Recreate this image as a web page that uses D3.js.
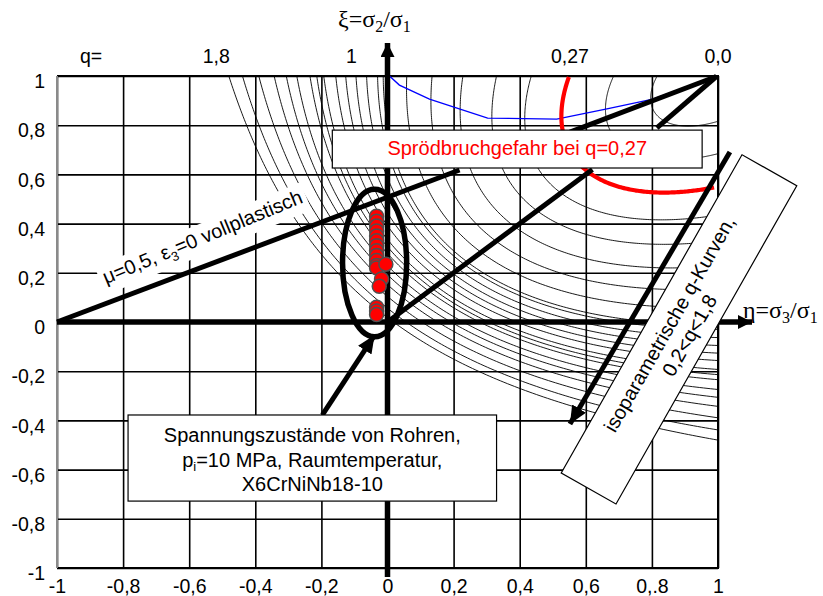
<!DOCTYPE html>
<html>
<head>
<meta charset="utf-8">
<script src="https://cdn.jsdelivr.net/npm/d3@7"></script>
<style>
  body { margin: 0; background: #fff; }
  svg { display: block; }
  text { font-family: Arial, "Liberation Sans", sans-serif; }
</style>
</head>
<body>
<svg id="chart" width="823" height="596"></svg>
<script>
// ---- data -------------------------------------------------------------
const tickValues   = [-1, -0.8, -0.6, -0.4, -0.2, 0, 0.2, 0.4, 0.6, 0.8, 1];
const xTickLabels  = ["-1", "-0,8", "-0,6", "-0,4", "-0,2", "0", "0,2", "0,4", "0,6", "0,.8", "1"];
const yTickLabels  = ["-1", "-0,8", "-0,6", "-0,4", "-0,2", "0", "0,2", "0,4", "0,6", "0,8", "1"];

// q labels along the upper border and the eta where they sit
const qTopLabels   = ["q=", "1,8", "1", "0,27", "0,0"];
const qTopLabelEta = [-0.897, -0.518, -0.109, 0.552, 1.0];

// q = Q_FACTOR * sigma_v / (sigma1 + sigma2 + sigma3)
const Q_FACTOR = 1.53;
// levels of the thin isoparametric q-curves
const qLevels = [1.49, 1.41, 1.32, 1.24, 1.18, 1.13, 1.07, 1.04, 1.01, 0.96, 0.92,
                 0.88, 0.84, 0.80, 0.78, 0.70, 0.62, 0.53, 0.44, 0.355, 0.18, 0.10];
const qCritical = 0.27;   // Sprödbruchgefahr

// blue reference line
const blueEta = [0.006, 0.036, 0.127, 0.303, 0.512, 0.664, 0.803, 0.994];
const blueXi  = [1.0,   0.963, 0.906, 0.829, 0.825, 0.866, 0.906, 1.0];

// measured stress states of the pipes (eta, xi)
const pointEta = [-0.033, -0.033, -0.033, -0.033, -0.033, -0.033, -0.033, -0.033, -0.033,
                  -0.033, -0.033, -0.033, -0.005, -0.018, -0.025, -0.033, -0.033, -0.033];
const pointXi  = [0.43, 0.41, 0.39, 0.37, 0.35, 0.33, 0.31, 0.29, 0.27,
                  0.25, 0.23, 0.22, 0.235, 0.175, 0.145, 0.06, 0.045, 0.03];

// ---- scales -----------------------------------------------------------
const svg = d3.select("#chart");
const x = d3.scaleLinear().domain([-1, 1]).range([57, 718]);
const y = d3.scaleLinear().domain([-1, 1]).range([568, 76]);
const plotH = y(-1) - y(1), plotW = x(1) - x(-1);

// arrowhead markers
const defs = svg.append("defs");
function marker(id, w, l) {
  defs.append("marker").attr("id", id)
    .attr("viewBox", `0 ${-w / 2} ${l} ${w}`)
    .attr("refX", l).attr("refY", 0)
    .attr("markerWidth", l).attr("markerHeight", w)
    .attr("markerUnits", "userSpaceOnUse")
    .attr("orient", "auto")
    .append("path").attr("d", `M0,${-w / 2}L${l},0L0,${w / 2}Z`).attr("fill", "#000");
}
marker("axisHead", 14, 14);
marker("head", 16, 18);

// ---- grid + tick labels -----------------------------------------------
const gx = svg.append("g")
  .attr("transform", `translate(0,${y(-1)})`)
  .call(d3.axisBottom(x).tickValues(tickValues).tickSize(-plotH).tickPadding(11)
        .tickFormat((d, i) => xTickLabels[i]));
const gy = svg.append("g")
  .attr("transform", `translate(${x(-1)},0)`)
  .call(d3.axisLeft(y).tickValues(tickValues).tickSize(-plotW).tickPadding(12)
        .tickFormat((d, i) => yTickLabels[i]));
[gx, gy].forEach(g => {
  g.select(".domain").remove();
  g.selectAll(".tick line").attr("stroke", "#000").attr("stroke-width", 1.6);
  g.selectAll(".tick text").attr("fill", "#000").style("font-size", "19.5px")
    .style("font-family", "Arial, 'Liberation Sans', sans-serif");
});
gy.selectAll(".tick text").attr("dy", "0.6em");
gx.selectAll(".tick text").attr("dy", "0.72em");

// plot border
svg.append("path")
  .attr("d", `M${x(-1)},${y(1)}H${x(1)}V${y(-1)}H${x(-1)}`)
  .attr("fill", "none").attr("stroke", "#000").attr("stroke-width", 2);
svg.append("line")
  .attr("x1", x(-1)).attr("x2", x(-1)).attr("y1", y(1)).attr("y2", y(-1))
  .attr("stroke", "#8a8a8a").attr("stroke-width", 2);

// top q labels
svg.append("g").selectAll("text").data(qTopLabels).join("text")
  .attr("x", (d, i) => x(qTopLabelEta[i])).attr("y", 63)
  .attr("text-anchor", "middle").style("font-size", "19.5px").text(d => d);

// ---- isoparametric q-curves --------------------------------------------
// A curve of constant q is traced along rays leaving the corner (1,1).
function qCurve(q) {
  const c = q / Q_FACTOR, pts = [];
  for (let k = 0; k <= 180; k++) {
    const t = (k / 180) * Math.PI / 2, a = Math.cos(t), b = Math.sin(t);
    const r = 3 * c / (Math.sqrt(1 - a * b) + c * (a + b));
    pts.push([1 - r * a, 1 - r * b]);
  }
  return pts;
}
const line = d3.line().x(d => x(d[0])).y(d => y(d[1]));
svg.append("g").selectAll("path").data(qLevels).join("path")
  .attr("d", q => line(qCurve(q)))
  .attr("fill", "none").attr("stroke", "#000").attr("stroke-width", 0.9);

// blue line
svg.append("path")
  .attr("d", line(blueEta.map((e, i) => [e, blueXi[i]])))
  .attr("fill", "none").attr("stroke", "#0000ff").attr("stroke-width", 1.3);

// critical q curve
svg.append("path")
  .attr("d", line(qCurve(qCritical).filter(p => p[0] < 0.99 && p[1] < 0.999)))
  .attr("fill", "none").attr("stroke", "#ff0000").attr("stroke-width", 4.2);

// ---- coordinate axes -----------------------------------------------------
svg.append("line")
  .attr("x1", x(0)).attr("y1", y(-1) + 9).attr("x2", x(0)).attr("y2", 43)
  .attr("stroke", "#000").attr("stroke-width", 5.5).attr("marker-end", "url(#axisHead)");
svg.append("line")
  .attr("x1", x(-1)).attr("y1", y(0)).attr("x2", 752).attr("y2", y(0))
  .attr("stroke", "#000").attr("stroke-width", 5.5).attr("marker-end", "url(#axisHead)");

// ---- guide lines -----------------------------------------------------------
function thick(e1, x1, e2, x2, head) {
  const l = svg.append("line")
    .attr("x1", x(e1)).attr("y1", y(x1)).attr("x2", x(e2)).attr("y2", y(x2))
    .attr("stroke", "#000").attr("stroke-width", 5);
  if (head) l.attr("marker-end", "url(#head)");
  return l;
}
thick(-1, 0, 0.218, 0.618);          // mu = 0.5 line
thick(0, 0, 0.62, 0.62);             // xi = eta
thick(0.552, 0.772, 0.995, 0.998);   // to the corner
thick(0.815, 0.789, 0.995, 0.998);
thick(-0.197, -0.378, -0.039, -0.053, true);

// mu label with white backing
const mu = svg.append("g").attr("transform", `translate(${x(-0.552)},${y(0.32)}) rotate(-22.5)`);
const muText = mu.append("text").attr("text-anchor", "middle").style("font-size", "20px");
muText.append("tspan").text("μ=0,5, ε");
muText.append("tspan").attr("dy", 5).style("font-size", "13px").text("3");
muText.append("tspan").attr("dy", -5).text("=0 vollplastisch");
const mb = muText.node().getBBox();
mu.insert("rect", "text").attr("x", mb.x - 4).attr("y", mb.y - 2)
  .attr("width", mb.width + 8).attr("height", mb.height + 4).attr("fill", "#fff");

// Sprödbruch box
svg.append("rect")
  .attr("x", x(-0.167)).attr("y", y(0.780))
  .attr("width", x(0.952) - x(-0.167)).attr("height", y(0.626) - y(0.780))
  .attr("fill", "#fff").attr("stroke", "#000").attr("stroke-width", 1.2);
svg.append("text").attr("x", (x(-0.167) + x(0.952)) / 2).attr("y", 155)
  .attr("text-anchor", "middle").attr("fill", "#ff0000").style("font-size", "20px")
  .text("Sprödbruchgefahr bei q=0,27");

// stress-state box
svg.append("rect")
  .attr("x", x(-0.785)).attr("y", y(-0.378))
  .attr("width", x(0.330) - x(-0.785)).attr("height", y(-0.728) - y(-0.378))
  .attr("fill", "#fff").attr("stroke", "#000").attr("stroke-width", 1.2);
const bx = (x(-0.785) + x(0.330)) / 2;
svg.append("text").attr("x", bx).attr("y", 442).attr("text-anchor", "middle")
  .style("font-size", "20px").text("Spannungszustände von Rohren,");
const t2 = svg.append("text").attr("x", bx).attr("y", 467).attr("text-anchor", "middle")
  .style("font-size", "20px");
t2.append("tspan").text("p");
t2.append("tspan").attr("dy", 4).style("font-size", "13px").text("i");
t2.append("tspan").attr("dy", -4).text("=10 MPa, Raumtemperatur,");
svg.append("text").attr("x", bx).attr("y", 491).attr("text-anchor", "middle")
  .style("font-size", "20px").text("X6CrNiNb18-10");

// arrow pointing at the q-curves
thick(1.036, 0.691, 0.552, -0.415, true);

// rotated box for the q-curve note
const iso = svg.append("g").attr("transform", `translate(${x(0.882)},${y(-0.030)}) rotate(-60.4)`);
iso.append("rect").attr("x", -183).attr("y", -31.5).attr("width", 366).attr("height", 63)
  .attr("fill", "#fff").attr("stroke", "#000").attr("stroke-width", 1.2);
iso.append("text").attr("y", -4).attr("text-anchor", "middle").style("font-size", "20px")
  .text("isoparametrische q-Kurven,");
iso.append("text").attr("y", 19).attr("text-anchor", "middle").style("font-size", "20px")
  .text("0,2<q<1,8");

// measured points
svg.append("g").selectAll("circle").data(pointEta).join("circle")
  .attr("cx", (d, i) => x(d)).attr("cy", (d, i) => y(pointXi[i])).attr("r", 7)
  .attr("fill", "#ff0000").attr("stroke", "#505050").attr("stroke-width", 1.5);

// ellipse round the measured points
svg.append("ellipse")
  .attr("cx", x(-0.039)).attr("cy", y(0.240))
  .attr("rx", x(0.097) - x(0)).attr("ry", y(0) - y(0.30))
  .attr("fill", "none").attr("stroke", "#000").attr("stroke-width", 5.5);

// axis titles
const xiT = svg.append("text").attr("x", 338).attr("y", 27)
  .style("font-family", "'Liberation Serif', 'Times New Roman', serif").style("font-size", "24px");
xiT.append("tspan").text("ξ=σ");
xiT.append("tspan").attr("dy", 5).style("font-size", "16px").text("2");
xiT.append("tspan").attr("dy", -5).text("/σ");
xiT.append("tspan").attr("dy", 5).style("font-size", "16px").text("1");
const etaT = svg.append("text").attr("x", 743).attr("y", 318)
  .style("font-family", "'Liberation Serif', 'Times New Roman', serif").style("font-size", "24px");
etaT.append("tspan").text("η=σ");
etaT.append("tspan").attr("dy", 5).style("font-size", "16px").text("3");
etaT.append("tspan").attr("dy", -5).text("/σ");
etaT.append("tspan").attr("dy", 5).style("font-size", "16px").text("1");
</script>
</body>
</html>
